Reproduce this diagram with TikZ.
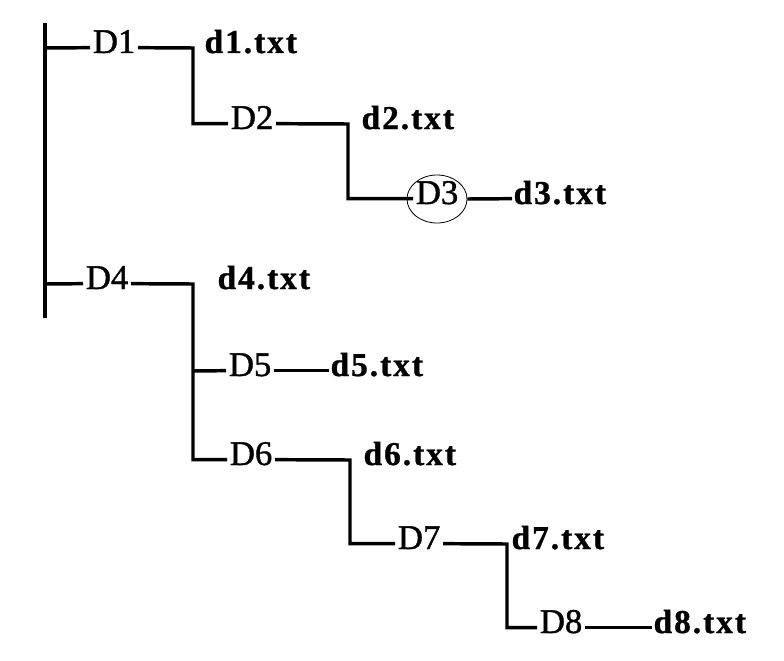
\documentclass[tikz,border=0pt]{standalone}
\usepackage{fontspec}
\setmainfont{Liberation Serif}
\usetikzlibrary{shapes.geometric}
\begin{document}
\begin{tikzpicture}[x=0.75pt,y=-0.75pt,
  conn/.style={line width=2.6pt, line join=miter},
  dirnode/.style={font=\fontsize{26}{28}\selectfont\addfontfeature{FakeBold=1.2}, inner sep=2pt, anchor=base west},
  filenode/.style={font=\fontsize{25}{28}\selectfont\bfseries\addfontfeature{LetterSpace=6,FakeBold=1}, inner sep=1pt, anchor=base west},
  hilite/.style={ellipse, draw, line width=0.6pt, minimum width=45pt, minimum height=36pt, inner sep=0pt},
  lw/.style={yshift=4pt}]
\useasboundingbox (0,0) rectangle (784,660);
% trunk
\coordinate (top) at (45,23);
\coordinate (bot) at (45,318);
\coordinate (j1) at (45,48);
\coordinate (j4) at (45,284);
% directory nodes (base lines 5px under the connectors)
\node[dirnode] (D1) at (90,53) {D1};
\node[dirnode] (D2) at (228,129) {D2};
\node[dirnode] (D3) at (413,204) {D3};
\node[hilite] (e3) at (437,199) {};
\node[dirnode] (D4) at (83,289) {D4};
\node[dirnode] (D5) at (226,376) {D5};
\node[dirnode] (D6) at (227,465) {D6};
\node[dirnode] (D7) at (395,549) {D7};
\node[dirnode] (D8) at (537,633) {D8};
% corners
\coordinate (c1) at (193,48);
\coordinate (c2) at (348,124);
\coordinate (c4) at (193,284);
\coordinate (c6) at (350,460);
\coordinate (c7) at (507,544);
% file nodes
\node[filenode] (f1) at (203,53) {d1.txt};
\node[filenode] (f2) at (360,129) {d2.txt};
\node[filenode] (f3) at (512,204) {d3.txt};
\node[filenode] (f4) at (216,289) {d4.txt};
\node[filenode] (f5) at (329,376) {d5.txt};
\node[filenode] (f6) at (362,465) {d6.txt};
\node[filenode] (f7) at (510,549) {d7.txt};
\node[filenode] (f8) at (652,633) {d8.txt};
% connectors
\draw[conn] (top) -- (bot);
\draw[conn] (j1) -- ([lw]D1.base west);
\draw[conn] ([lw]D1.base east) -- (c1) |- ([lw]D2.base west);
\draw[conn] ([lw]D2.base east) -- (c2) |- ([lw]D3.base west);
\draw[conn] (e3.east) -- ([lw]f3.base west);
\draw[conn] (j4) -- ([lw]D4.base west);
\draw[conn] ([lw]D4.base east) -- (c4) |- ([lw]D6.base west);
\draw[conn] (c4 |- D5.base west) ++(0,-5) -- ([lw]D5.base west);
\draw[conn] ([lw]D5.base east) -- ([lw]f5.base west);
\draw[conn] ([lw]D6.base east) -- (c6) |- ([lw]D7.base west);
\draw[conn] ([lw]D7.base east) -- (c7) |- ([lw]D8.base west);
\draw[conn] ([lw]D8.base east) -- ([lw]f8.base west);
\end{tikzpicture}
\end{document}
